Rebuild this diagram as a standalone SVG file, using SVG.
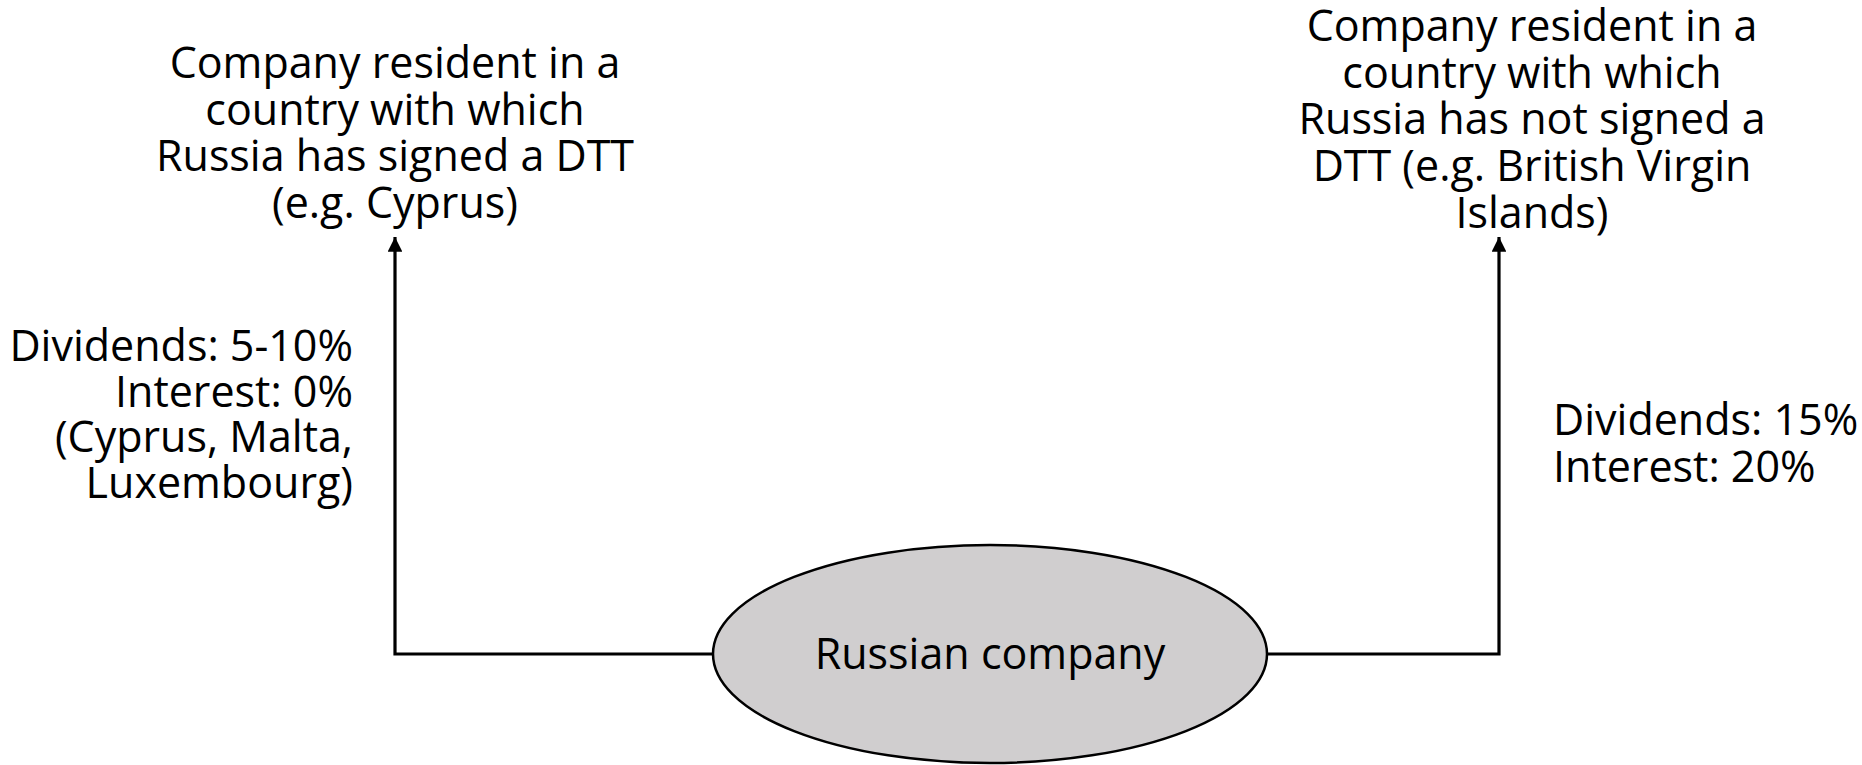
<svg xmlns="http://www.w3.org/2000/svg" width="1862" height="765" viewBox="0 0 1862 765">
<style>
text{font-family:"Open Sans","Noto Sans","Liberation Sans",sans-serif;font-size:43px;fill:#000}
.c{text-anchor:middle}
.r{text-anchor:end}
.l{text-anchor:start}
.conn{fill:none;stroke:#000;stroke-width:3.2}
</style>
<defs>
<marker id="arr" viewBox="0 0 10 10" refX="10" refY="5" markerWidth="5" markerHeight="4.6" markerUnits="strokeWidth" orient="auto">
<path d="M0,0 L10,5 L0,10 z" fill="#000"/>
</marker>
</defs>
<rect width="1862" height="765" fill="#fff"/>
<g id="connectors">
<path class="conn" d="M714,654 H395 V237" marker-end="url(#arr)"/>
<path class="conn" d="M1267,654 H1499 V237" marker-end="url(#arr)"/>
</g>
<g id="russian-company">
<ellipse cx="990" cy="654" rx="277" ry="109" fill="#d0cecf" stroke="#000" stroke-width="2.5"/>
<text class="c" x="990" y="669">Russian company</text>
</g>
<g id="dtt-company">
<text class="c" x="395" y="78"><tspan x="395">Company resident in a</tspan><tspan x="395" dy="46.7">country with which</tspan><tspan x="395" dy="46.7">Russia has signed a DTT</tspan><tspan x="395" dy="46.7">(e.g. Cyprus)</tspan></text>
</g>
<g id="non-dtt-company">
<text class="c" x="1532" y="41"><tspan x="1532">Company resident in a</tspan><tspan x="1532" dy="46.7">country with which</tspan><tspan x="1532" dy="46.7">Russia has not signed a</tspan><tspan x="1532" dy="46.7">DTT (e.g. British Virgin</tspan><tspan x="1532" dy="46.7">Islands)</tspan></text>
</g>
<g id="dtt-rates">
<text class="r" x="353" y="361"><tspan x="353">Dividends: 5-10%</tspan><tspan x="353" dy="45.7">Interest: 0%</tspan><tspan x="353" dy="45.7">(Cyprus, Malta,</tspan><tspan x="353" dy="45.7">Luxembourg)</tspan></text>
</g>
<g id="non-dtt-rates">
<text class="l" x="1553" y="435"><tspan x="1553">Dividends: 15%</tspan><tspan x="1553" dy="46.7">Interest: 20%</tspan></text>
</g>
</svg>
